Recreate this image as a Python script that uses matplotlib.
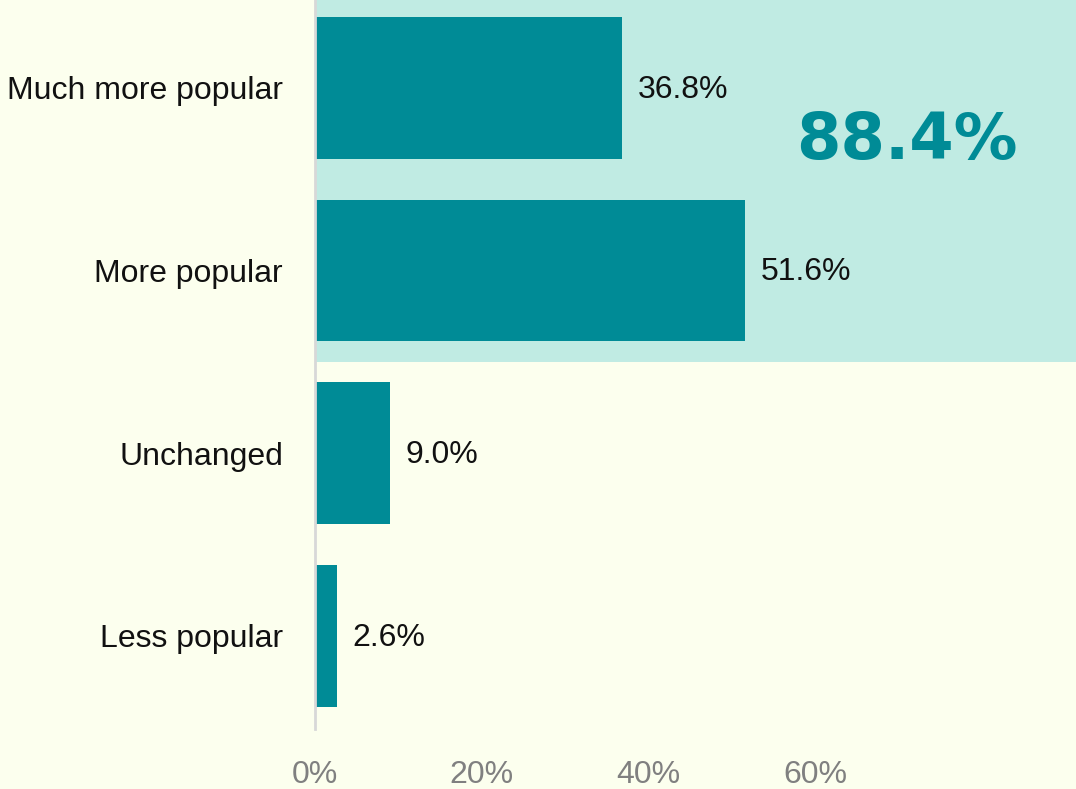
import matplotlib.pyplot as plt
from matplotlib.patches import Rectangle

categories = ["Much more popular", "More popular", "Unchanged", "Less popular"]
values = [36.8, 51.6, 9.0, 2.6]
xticks = [0, 20, 40, 60]
total_popular = 88.4

bg = "#FCFFEE"
teal = "#008B96"
highlight = "#C0EBE3"

plt.rcParams['font.family'] = ['Liberation Sans', 'DejaVu Sans']

fig = plt.figure(figsize=(10.76, 7.89), dpi=100, facecolor=bg)
ax = fig.add_axes([315 / 1076, 1 - 729 / 789, 1 - 315 / 1076, 729 / 789])
ax.set_facecolor(bg)

ypos = list(range(len(categories)))
ax.set_xlim(0, 761 / 8.333)
ax.set_ylim(3.51, -0.48)

# highlighted band behind the two "popular" bars
ax.add_patch(Rectangle((0, -0.48), 200, 1.98, facecolor=highlight, edgecolor='none', zorder=0))

ax.barh(ypos, values, height=0.776, color=teal, zorder=2)
for y, v in zip(ypos, values):
    ax.text(v + 1.9, y + 0.01, f"{v:.1f}%", va='center', ha='left', fontsize=23, color='#111111')

ax.text(71.0, 0.29, f"{total_popular}%", ha='center', va='center', fontsize=46,
        fontweight='bold', color=teal, family='DejaVu Sans')

ax.set_yticks(ypos)
ax.set_yticklabels(categories, fontsize=23, color='#111111')
ax.set_xticks(xticks)
ax.set_xticklabels([f"{t}%" for t in xticks], fontsize=23, color='#808080')
ax.tick_params(length=0)
ax.tick_params(axis='y', pad=23)
ax.tick_params(axis='x', pad=22)

for s in ['top', 'right', 'bottom']:
    ax.spines[s].set_visible(False)
ax.spines['left'].set_color('#D8D8D8')
ax.spines['left'].set_linewidth(2)
ax.spines['left'].set_zorder(3)

fig.savefig("out.png", dpi=100, facecolor=bg)
